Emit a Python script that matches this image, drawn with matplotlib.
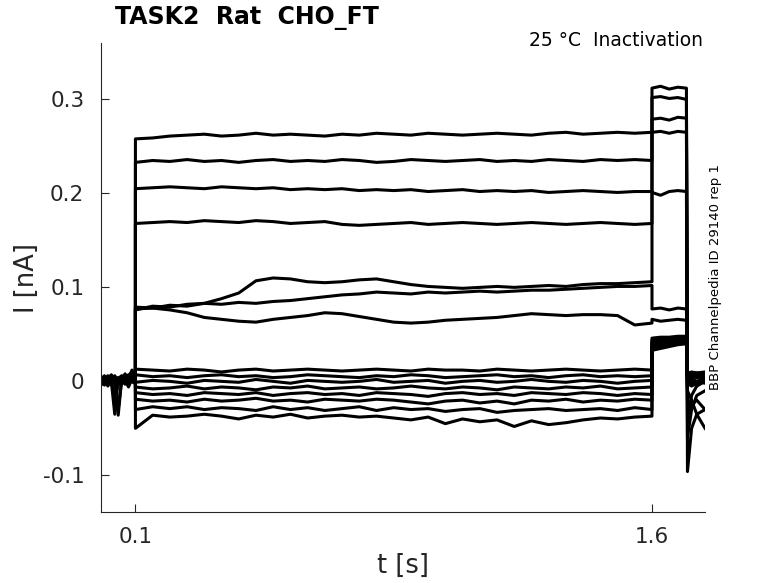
import numpy as np
import matplotlib
matplotlib.use("Agg")
import matplotlib.pyplot as plt

# sample times [s]
t_base = [0.0, 0.01, 0.02, 0.03, 0.04, 0.05, 0.06, 0.07, 0.08, 0.09, 0.10]
t_pre = [0.10, 0.15, 0.20, 0.25, 0.30, 0.35, 0.40, 0.45, 0.50, 0.55, 0.60,
         0.65, 0.70, 0.75, 0.80, 0.85, 0.90, 0.95, 1.00, 1.05, 1.10, 1.15,
         1.20, 1.25, 1.30, 1.35, 1.40, 1.45, 1.50, 1.55, 1.60]
t_test = [1.60, 1.625, 1.65, 1.675, 1.70]
t_tail = [1.70, 1.703, 1.715, 1.73, 1.754]

# current [nA], one row per sweep
base_vals = [
    [0.003, 0.005, 0.002, 0.004, -0.002, 0.003, 0.006, 0.004, 0.007, 0.005, 0.004],
    [-0.002, 0.001, 0.004, 0.000, -0.035, 0.002, 0.004, 0.001, 0.006, 0.010, 0.003],
    [0.001, -0.003, 0.002, 0.005, 0.001, -0.004, 0.003, 0.008, 0.002, 0.004, 0.001],
    [0.004, 0.002, 0.006, 0.001, 0.003, -0.036, 0.002, 0.005, 0.003, 0.012, 0.002],
    [-0.004, 0.000, -0.002, 0.003, 0.000, 0.002, -0.003, 0.001, 0.004, 0.002, -0.001],
    [0.002, 0.006, 0.001, -0.001, 0.004, 0.003, 0.000, 0.003, 0.001, 0.006, 0.003],
    [0.000, 0.002, -0.005, 0.002, 0.006, 0.000, 0.002, -0.002, 0.005, 0.001, 0.000],
    [0.005, 0.001, 0.003, 0.007, 0.002, 0.004, 0.001, 0.006, 0.003, 0.008, 0.005],
    [-0.003, 0.002, 0.000, -0.002, 0.003, -0.001, 0.004, 0.000, -0.002, 0.003, 0.001],
    [0.002, -0.001, 0.004, 0.001, -0.020, 0.002, -0.001, 0.003, 0.000, 0.004, 0.002],
    [0.000, 0.003, -0.004, 0.002, 0.000, 0.001, 0.004, -0.002, 0.003, 0.001, -0.003],
    [0.003, -0.002, 0.001, 0.004, -0.003, 0.002, 0.000, 0.004, -0.001, 0.002, 0.000],
    [-0.001, 0.004, 0.002, -0.004, 0.001, 0.003, -0.002, 0.002, 0.005, -0.001, 0.002],
    [0.001, -0.004, 0.003, 0.000, 0.002, -0.030, 0.001, -0.003, 0.002, 0.000, 0.004],
    [-0.002, 0.002, -0.001, 0.005, -0.001, 0.000, 0.003, 0.001, -0.006, 0.003, 0.000],
]

pre_vals = [
    [0.258, 0.259, 0.261, 0.262, 0.263, 0.261, 0.262, 0.264, 0.262, 0.263, 0.262,
     0.261, 0.263, 0.262, 0.264, 0.263, 0.262, 0.264, 0.263, 0.262, 0.263, 0.264,
     0.263, 0.262, 0.264, 0.265, 0.263, 0.264, 0.265, 0.264, 0.265],
    [0.233, 0.235, 0.234, 0.236, 0.234, 0.235, 0.233, 0.235, 0.236, 0.234, 0.235,
     0.234, 0.236, 0.235, 0.233, 0.234, 0.236, 0.235, 0.234, 0.235, 0.236, 0.234,
     0.235, 0.234, 0.236, 0.235, 0.234, 0.236, 0.235, 0.236, 0.235],
    [0.205, 0.206, 0.207, 0.206, 0.205, 0.207, 0.206, 0.205, 0.206, 0.204, 0.205,
     0.204, 0.205, 0.203, 0.204, 0.203, 0.204, 0.202, 0.203, 0.204, 0.202, 0.203,
     0.202, 0.203, 0.201, 0.202, 0.203, 0.202, 0.201, 0.202, 0.202],
    [0.168, 0.169, 0.170, 0.169, 0.171, 0.170, 0.169, 0.171, 0.170, 0.168, 0.169,
     0.170, 0.167, 0.166, 0.167, 0.168, 0.169, 0.167, 0.168, 0.169, 0.168, 0.167,
     0.168, 0.169, 0.168, 0.167, 0.168, 0.169, 0.168, 0.167, 0.168],
    [0.076, 0.080, 0.079, 0.082, 0.083, 0.088, 0.094, 0.107, 0.110, 0.109, 0.106,
     0.105, 0.106, 0.108, 0.109, 0.106, 0.103, 0.101, 0.100, 0.099, 0.100, 0.101,
     0.100, 0.101, 0.102, 0.101, 0.103, 0.104, 0.104, 0.105, 0.106],
    [0.079, 0.078, 0.081, 0.080, 0.083, 0.082, 0.084, 0.083, 0.085, 0.086, 0.088,
     0.090, 0.092, 0.093, 0.095, 0.094, 0.093, 0.095, 0.094, 0.095, 0.096, 0.095,
     0.096, 0.097, 0.097, 0.098, 0.099, 0.100, 0.101, 0.101, 0.102],
    [0.077, 0.078, 0.076, 0.073, 0.068, 0.066, 0.064, 0.063, 0.066, 0.068, 0.070,
     0.073, 0.072, 0.069, 0.066, 0.063, 0.062, 0.063, 0.065, 0.066, 0.067, 0.068,
     0.070, 0.072, 0.071, 0.070, 0.071, 0.071, 0.070, 0.060, 0.062],
    [0.013, 0.012, 0.011, 0.013, 0.012, 0.010, 0.012, 0.013, 0.011, 0.012, 0.013,
     0.012, 0.011, 0.012, 0.013, 0.012, 0.011, 0.013, 0.012, 0.012, 0.011, 0.013,
     0.012, 0.011, 0.012, 0.013, 0.012, 0.011, 0.012, 0.013, 0.012],
    [0.007, 0.005, 0.006, 0.004, 0.006, 0.007, 0.005, 0.006, 0.004, 0.005, 0.007,
     0.006, 0.005, 0.004, 0.006, 0.005, 0.007, 0.006, 0.004, 0.005, 0.006, 0.007,
     0.005, 0.006, 0.004, 0.006, 0.007, 0.005, 0.006, 0.005, 0.006],
    [-0.001, 0.001, 0.000, -0.002, 0.001, 0.000, -0.001, 0.002, 0.000, -0.002, 0.001,
     0.000, -0.001, 0.000, 0.002, -0.001, 0.000, 0.001, -0.002, 0.000, 0.001, -0.001,
     0.000, 0.002, 0.000, -0.001, 0.001, 0.000, -0.002, 0.000, 0.001],
    [-0.006, -0.008, -0.007, -0.005, -0.008, -0.006, -0.007, -0.009, -0.006, -0.007, -0.005,
     -0.008, -0.007, -0.006, -0.008, -0.007, -0.005, -0.007, -0.008, -0.006, -0.007, -0.009,
     -0.006, -0.007, -0.008, -0.006, -0.007, -0.005, -0.008, -0.007, -0.006],
    [-0.012, -0.014, -0.013, -0.015, -0.012, -0.013, -0.014, -0.012, -0.015, -0.013, -0.012,
     -0.014, -0.013, -0.015, -0.012, -0.013, -0.014, -0.016, -0.013, -0.012, -0.014, -0.013,
     -0.015, -0.012, -0.013, -0.014, -0.012, -0.013, -0.015, -0.013, -0.014],
    [-0.019, -0.021, -0.020, -0.022, -0.019, -0.021, -0.020, -0.018, -0.021, -0.020, -0.022,
     -0.019, -0.020, -0.021, -0.019, -0.020, -0.022, -0.024, -0.021, -0.020, -0.023, -0.021,
     -0.024, -0.020, -0.021, -0.019, -0.022, -0.020, -0.021, -0.019, -0.020],
    [-0.030, -0.027, -0.029, -0.027, -0.030, -0.028, -0.029, -0.031, -0.027, -0.030, -0.028,
     -0.031, -0.029, -0.027, -0.031, -0.028, -0.030, -0.029, -0.032, -0.030, -0.029, -0.033,
     -0.031, -0.030, -0.029, -0.031, -0.030, -0.029, -0.031, -0.028, -0.030],
    [-0.050, -0.036, -0.038, -0.037, -0.035, -0.037, -0.040, -0.036, -0.038, -0.035, -0.039,
     -0.037, -0.036, -0.038, -0.037, -0.039, -0.041, -0.038, -0.045, -0.040, -0.043, -0.041,
     -0.048, -0.042, -0.046, -0.044, -0.041, -0.039, -0.040, -0.038, -0.037],
]

test_vals = [
    [0.265, 0.266, 0.264, 0.266, 0.265],
    [0.312, 0.314, 0.311, 0.313, 0.312],
    [0.201, 0.198, 0.202, 0.203, 0.202],
    [0.302, 0.303, 0.301, 0.302, 0.300],
    [0.279, 0.280, 0.278, 0.281, 0.280],
    [0.077, 0.078, 0.076, 0.078, 0.077],
    [0.066, 0.064, 0.065, 0.066, 0.065],
    [0.046, 0.047, 0.047, 0.048, 0.048],
    [0.044, 0.045, 0.046, 0.046, 0.047],
    [0.042, 0.043, 0.044, 0.045, 0.046],
    [0.040, 0.041, 0.042, 0.043, 0.044],
    [0.039, 0.040, 0.041, 0.042, 0.043],
    [0.037, 0.038, 0.040, 0.041, 0.042],
    [0.035, 0.037, 0.038, 0.040, 0.041],
    [0.033, 0.035, 0.037, 0.039, 0.040],
]

tail_vals = [
    [0.004, 0.006, 0.005, 0.007],
    [-0.096, -0.050, -0.035, -0.030],
    [-0.060, -0.030, -0.015, -0.010],
    [-0.040, -0.015, -0.005, 0.000],
    [0.008, 0.010, 0.009, 0.010],
    [0.006, 0.008, 0.007, 0.008],
    [0.003, 0.005, 0.004, 0.005],
    [0.010, 0.008, 0.009, 0.006],
    [0.002, -0.004, 0.000, -0.002],
    [-0.010, -0.020, -0.035, -0.050],
    [-0.002, -0.005, -0.002, 0.000],
    [0.004, 0.000, -0.005, 0.002],
    [-0.020, -0.025, -0.020, -0.030],
    [-0.005, 0.000, -0.003, 0.002],
    [0.006, 0.003, 0.000, 0.004],
]

x_ticks = [0.1, 1.6]
x_tick_labels = ["0.1", "1.6"]
y_ticks = [-0.1, 0.0, 0.1, 0.2, 0.3]
y_tick_labels = ["-0.1", "0", "0.1", "0.2", "0.3"]


def main():
    fig = plt.figure(figsize=(7.78, 5.83), dpi=100)
    ax = fig.add_axes([0.1298, 0.1218, 0.7764, 0.8044])
    axis_col = "#262626"

    t_all = np.concatenate([t_base, t_pre, t_test, t_tail])
    for i in range(len(pre_vals)):
        tail = [test_vals[i][-1]] + tail_vals[i]
        y_all = np.concatenate([base_vals[i], pre_vals[i], test_vals[i], tail])
        ax.plot(t_all, y_all, color="black", linewidth=2.2)

    ax.set_xlim(0.0, 1.754)
    ax.set_ylim(-0.139, 0.36)
    ax.set_xticks(x_ticks)
    ax.set_xticklabels(x_tick_labels)
    ax.set_yticks(y_ticks)
    ax.set_yticklabels(y_tick_labels)

    for side in ["top", "right"]:
        ax.spines[side].set_visible(False)
    for side in ["left", "bottom"]:
        ax.spines[side].set_color(axis_col)
        ax.spines[side].set_linewidth(0.8)
    ax.tick_params(direction="in", length=6, width=0.8, colors=axis_col,
                   labelsize=15.5)
    ax.tick_params(axis="y", pad=12)
    ax.tick_params(axis="x", pad=11)

    ax.set_xlabel("t [s]", fontsize=18.5, color=axis_col, labelpad=4)
    ax.set_ylabel("I [nA]", fontsize=18.5, color=axis_col, labelpad=2)

    fig.text(115 / 778, 1 - 18 / 583, "TASK2  Rat  CHO_FT", fontsize=17,
             fontweight="bold", ha="left", va="center")
    fig.text(703 / 778, 1 - 41 / 583, "25 \u00b0C  Inactivation", fontsize=13.5,
             ha="right", va="center")
    fig.text(716 / 778, 1 - 277 / 583, "BBP Channelpedia ID 29140 rep 1",
             fontsize=9.5, rotation=90, ha="center", va="center")

    fig.savefig("out.png", dpi=100)


if __name__ == '__main__':
    main()
